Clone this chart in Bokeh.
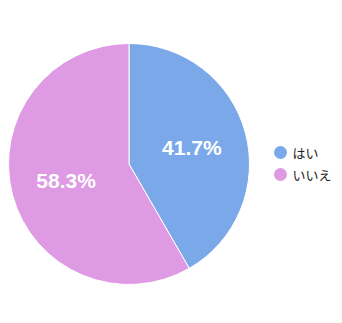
import math
from bokeh.plotting import figure
from bokeh.models import Range1d, ColumnDataSource
from bokeh.core.properties import value
from bokeh.embed import file_html
from bokeh.resources import INLINE

categories = ["はい", "いいえ"]
counts = [5, 7]
colors = ["#7BA8E8", "#DE9AE3"]

W, H = 342, 323
cx, cy, r = 128.5, 323 - 163.5, 120.5

total = sum(counts)
starts, ends, lx, ly, labels = [], [], [], [], []
a = math.pi / 2
for c in counts:
    sweep = 2 * math.pi * c / total
    starts.append(a - sweep)
    ends.append(a)
    mid = a - sweep / 2
    lx.append(cx + 0.54 * r * math.cos(mid))
    ly.append(cy + 0.54 * r * math.sin(mid))
    labels.append(f"{100 * c / total:.1f}%")
    a -= sweep

src = ColumnDataSource(dict(start=starts, end=ends, color=colors, lx=lx, ly=ly, label=labels,
                            cat=categories,
                            legx=[280] * len(categories),
                            legy=[323 - 152 - 22 * i for i in range(len(categories))],
                            tx=[292] * len(categories)))

p = figure(width=W, height=H, output_backend="svg", toolbar_location=None,
           x_range=Range1d(0, W), y_range=Range1d(0, H), min_border=0)
p.axis.visible = False
p.grid.visible = False
p.outline_line_color = None
p.background_fill_color = "white"
p.border_fill_color = "white"

p.wedge(x=cx, y=cy, radius=r, start_angle="start", end_angle="end",
        fill_color="color", line_color="white", line_width=1, source=src)
p.text(x="lx", y="ly", text="label", text_color="white", text_font=value("Arial"),
       text_font_size="21px", text_font_style="bold", text_align="center",
       text_baseline="middle", source=src)
p.scatter(x="legx", y="legy", size=13, marker="circle", fill_color="color",
          line_color=None, source=src)
p.text(x="tx", y="legy", text="cat", text_color="#222222",
       text_font=value("Noto Sans CJK JP"), text_font_size="13px",
       text_baseline="middle", source=src)

open("out.html", "w").write(file_html(p, INLINE))
